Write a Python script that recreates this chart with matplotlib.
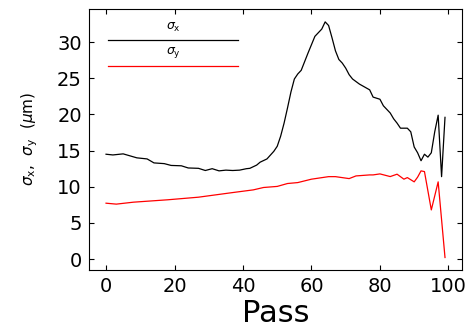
import matplotlib
matplotlib.use("Agg")
import matplotlib.pyplot as plt

# ---- data ----
pass_x = [0, 2, 5, 9, 12, 14, 17, 19, 22, 24, 27, 29, 31, 33, 35, 37, 39, 41, 42,
          44, 45, 47, 49, 50, 51, 52, 53, 54, 55, 56, 57, 59, 61, 63, 64, 65, 66,
          67, 68, 69, 70, 71, 72, 74, 77, 78, 80, 81, 83, 84, 85, 86, 88, 89, 90,
          91, 92, 93, 94, 95, 96, 97, 98, 99]
sigma_x = [14.5, 14.4, 14.55, 14.0, 13.85, 13.3, 13.2, 12.95, 12.9, 12.6, 12.55,
           12.25, 12.5, 12.2, 12.3, 12.25, 12.3, 12.5, 12.55, 13.0, 13.4, 13.85,
           14.9, 15.6, 17.0, 18.8, 20.9, 23.1, 24.9, 25.6, 26.1, 28.5, 30.8, 31.8,
           32.8, 32.3, 30.6, 28.8, 27.6, 27.1, 26.4, 25.5, 24.9, 24.2, 23.4, 22.4,
           22.1, 21.2, 20.2, 19.4, 18.8, 18.1, 18.1, 17.6, 15.5, 14.7, 13.6, 14.5,
           14.1, 14.7, 17.6, 19.9, 11.4, 19.6]

pass_y = [0, 3, 8, 18, 27, 37, 43, 46, 50, 53, 56, 60, 65, 67, 71, 73, 77, 78, 80,
          83, 85, 87, 88, 90, 91, 92, 93, 95, 97, 99]
sigma_y = [7.73, 7.6, 7.87, 8.2, 8.56, 9.2, 9.57, 9.9, 10.05, 10.45, 10.58, 11.05,
           11.4, 11.4, 11.13, 11.5, 11.64, 11.64, 11.78, 11.41, 11.74, 11.05, 11.27,
           10.68, 11.33, 12.2, 12.1, 6.8, 10.68, 0.22]

x_ticks = [0, 20, 40, 60, 80, 100]
y_ticks = [0, 5, 10, 15, 20, 25, 30]
labels = [r"$\sigma_{\mathrm{x}}$", r"$\sigma_{\mathrm{y}}$"]
colors = ["black", "red"]

plt.rcParams["font.family"] = ["DejaVu Sans"]
plt.rcParams["mathtext.fontset"] = "dejavusans"

fig = plt.figure(figsize=(4.73, 3.28), dpi=100)
ax = fig.add_axes([0.188, 0.177, 0.789, 0.796])

ax.plot(pass_x, sigma_x, color=colors[0], lw=0.9)
ax.plot(pass_y, sigma_y, color=colors[1], lw=0.9)

ax.set_xlim(-5, 104)
ax.set_ylim(-1.5, 34.6)
ax.set_xticks(x_ticks)
ax.set_yticks(y_ticks)
ax.tick_params(direction="in", length=3.5, width=0.8, top=True, right=True,
               labelsize=14, pad=5, colors="black")
for s in ax.spines.values():
    s.set_linewidth(0.8)

ax.set_xlabel("Pass", fontsize=22, labelpad=2)
ax.set_ylabel(r"$\sigma_{\mathrm{x}}$,  $\sigma_{\mathrm{y}}$  ($\mu$m)",
              fontsize=11, labelpad=12)

# custom IDL-style legend: label above each line
leg_y = [0.88, 0.78]
for lab, col, yy in zip(labels, colors, leg_y):
    ax.plot([0.052, 0.40], [yy, yy], color=col, lw=0.9, transform=ax.transAxes)
    ax.text(0.226, yy + 0.025, lab, transform=ax.transAxes, ha="center",
            va="bottom", fontsize=9)

fig.savefig("out.png", dpi=100)
